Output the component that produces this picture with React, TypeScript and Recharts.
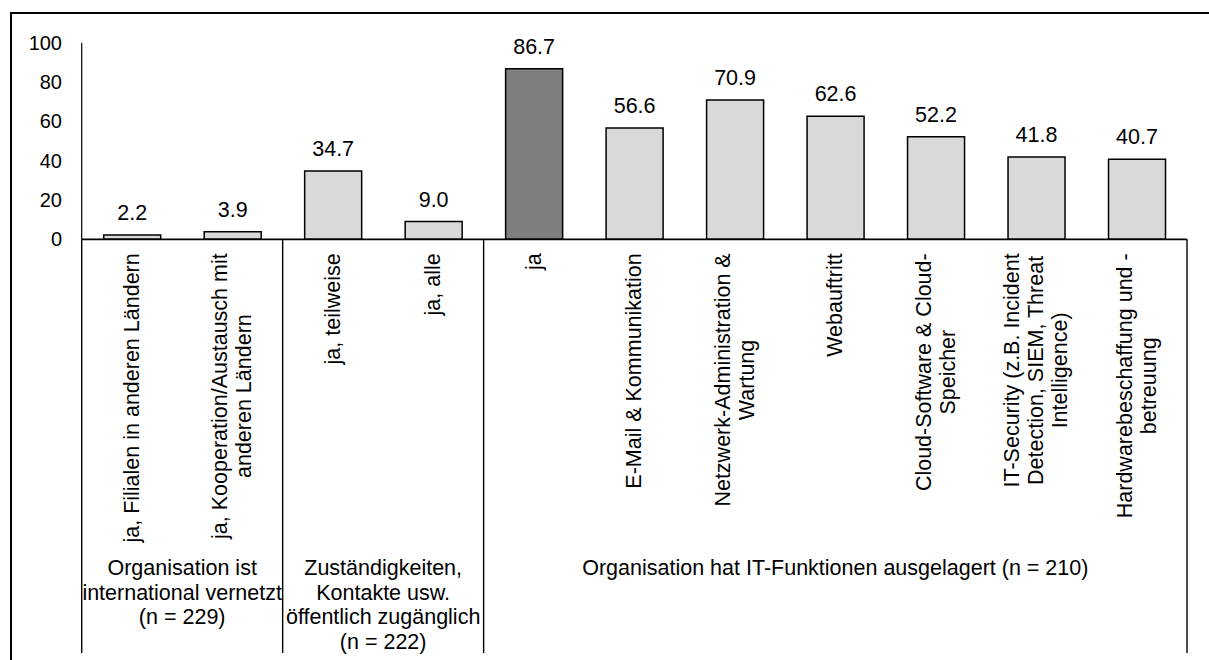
import { BarChart, Bar, XAxis, YAxis, Cell, LabelList } from 'recharts';

// category labels (\n marks a manual line break)
const categories = [
  'ja, Filialen in anderen Ländern',
  'ja, Kooperation/Austausch mit\nanderen Ländern',
  'ja, teilweise',
  'ja, alle',
  'ja',
  'E-Mail & Kommunikation',
  'Netzwerk-Administration &\nWartung',
  'Webauftritt',
  'Cloud-Software & Cloud-\nSpeicher',
  'IT-Security (z.B. Incident\nDetection, SIEM, Threat\nIntelligence)',
  'Hardwarebeschaffung und -\nbetreuung',
];

const percentages = [2.2, 3.9, 34.7, 9.0, 86.7, 56.6, 70.9, 62.6, 52.2, 41.8, 40.7];

const groupLabels = [
  ['Organisation ist', 'international vernetzt', '(n = 229)'],
  ['Zuständigkeiten,', 'Kontakte usw.', 'öffentlich zugänglich', '(n = 222)'],
  ['Organisation hat IT-Funktionen ausgelagert (n = 210)'],
];
const groupSizes = [2, 2, 7];

const yTicks = [0, 20, 40, 60, 80, 100];

const data = categories.map((name, i) => ({ name, value: percentages[i] }));

const FONT = '"Liberation Sans", Arial, sans-serif';
const WIDTH = 1209;
const HEIGHT = 660;
const PLOT_LEFT = 81.7;
const PLOT_RIGHT = 1187;
const PLOT_TOP = 42.7;
const AXIS_Y = 239.3;
const BAND = (PLOT_RIGHT - PLOT_LEFT) / categories.length;

const LABEL_SIZE = 21.5;
const LABEL_GAP = 14; // from axis line to the end of rotated labels
const LINE_H = 24;
const GROUP_LINE_H = 24.5;
const GROUP_FIRST = 328.7; // first group label line below the axis
const SEP_BOTTOM = 653;

const canvas = typeof document !== 'undefined' ? document.createElement('canvas') : null;
const ctx = canvas ? canvas.getContext('2d') : null;
function textWidth(s: string) {
  if (!ctx) return s.length * LABEL_SIZE * 0.5;
  ctx.font = `${LABEL_SIZE}px "Liberation Sans"`;
  return ctx.measureText(s).width;
}

// start index of every group
const groupStarts = groupSizes.reduce<number[]>((acc, n, i) => {
  acc.push(i === 0 ? 0 : acc[i - 1] + groupSizes[i - 1]);
  return acc;
}, []);

function CategoryTick(props: any) {
  const { x, y, payload, index } = props;
  const lines = String(payload.value).split('\n');
  const longest = Math.max(...lines.map(textWidth));
  const mid = y + LABEL_GAP + longest / 2;
  const g = groupStarts.indexOf(index);
  const isLast = index === categories.length - 1;

  return (
    <g>
      {lines.map((line, i) => {
        const lx = x + (i - (lines.length - 1) / 2) * LINE_H;
        return (
          <text
            key={i}
            transform={`translate(${lx},${mid}) rotate(-90)`}
            textAnchor="middle"
            dominantBaseline="central"
            fontSize={LABEL_SIZE}
            fontFamily={FONT}
            fill="#000"
          >
            {line}
          </text>
        );
      })}
      {g >= 0 && (
        <>
          <line x1={x - BAND / 2} x2={x - BAND / 2} y1={y} y2={SEP_BOTTOM} stroke="#000" strokeWidth={1.4} />
          {groupLabels[g].map((line, i) => (
            <text
              key={`g${i}`}
              x={x - BAND / 2 + (groupSizes[g] * BAND) / 2}
              y={y + GROUP_FIRST + i * GROUP_LINE_H}
              textAnchor="middle"
              dominantBaseline="central"
              fontSize={LABEL_SIZE}
              fontFamily={FONT}
              fill="#000"
            >
              {line}
            </text>
          ))}
        </>
      )}
      {isLast && (
        <line x1={x + BAND / 2} x2={x + BAND / 2} y1={y} y2={SEP_BOTTOM} stroke="#000" strokeWidth={1.4} />
      )}
    </g>
  );
}

export default function App() {
  return (
    <div
      style={{
        position: 'absolute',
        left: 0,
        top: 0,
        width: WIDTH,
        height: HEIGHT,
        overflow: 'hidden',
        background: '#fff',
      }}
    >
      <div
        style={{
          position: 'absolute',
          left: 10,
          top: 11.5,
          width: WIDTH + 100,
          height: HEIGHT + 100,
          borderLeft: '2px solid #000',
          borderTop: '2px solid #000',
        }}
      />
      <div style={{ position: 'absolute', left: 0, top: 0 }}>
        <BarChart
          width={WIDTH}
          height={HEIGHT}
          data={data}
          margin={{ top: PLOT_TOP, right: WIDTH - PLOT_RIGHT, bottom: 0, left: 0 }}
        >
          <XAxis
            dataKey="name"
            interval={0}
            tickLine={false}
            tickSize={0}
            tickMargin={0}
            height={HEIGHT - AXIS_Y}
            axisLine={{ stroke: '#000', strokeWidth: 1.8 }}
            tick={(p: any) => <CategoryTick {...p} />}
          />
          <YAxis
            domain={[0, 100]}
            ticks={yTicks}
            width={PLOT_LEFT}
            tickLine={false}
            tickSize={0}
            tickMargin={PLOT_LEFT - 62}
            axisLine={{ stroke: '#000', strokeWidth: 1.2 }}
            tick={{ fill: '#000', fontSize: 20, fontFamily: FONT }}
          />
          <Bar dataKey="value" barSize={57} stroke="#000" strokeWidth={1.5} isAnimationActive={false}>
            {data.map((d, i) => (
              <Cell key={i} fill={d.name === 'ja' ? '#7f7f7f' : '#d9d9d9'} />
            ))}
            <LabelList
              dataKey="value"
              position="top"
              offset={15}
              formatter={(v: any) => Number(v).toFixed(1)}
              style={{ fill: '#000', fontSize: LABEL_SIZE, fontFamily: FONT }}
            />
          </Bar>
        </BarChart>
      </div>
    </div>
  );
}
